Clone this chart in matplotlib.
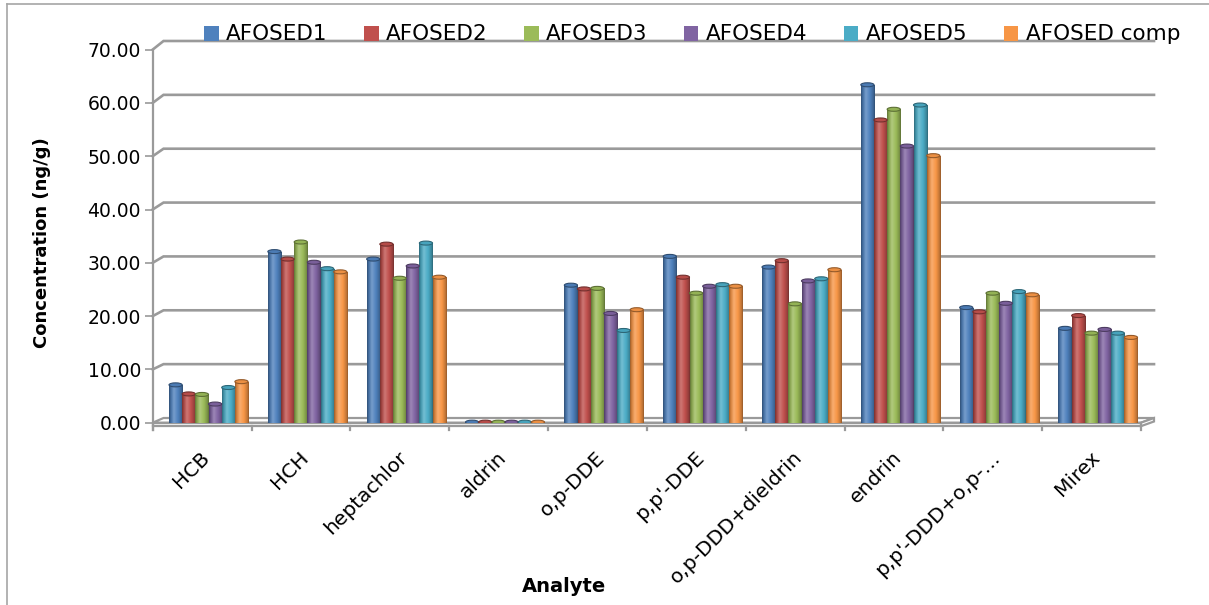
import numpy as np
import matplotlib
matplotlib.use('Agg')
import matplotlib.pyplot as plt
from matplotlib.colors import LinearSegmentedColormap, to_rgb
from matplotlib.patches import Rectangle, Ellipse, Polygon
from matplotlib.lines import Line2D

plt.rcParams['font.family'] = 'DejaVu Sans'

# analytes and concentrations (ng/g) for each sediment sample
analytes = ['HCB', 'HCH', 'heptachlor', 'aldrin', 'o,p-DDE', "p,p'-DDE",
            'o,p-DDD+dieldrin', 'endrin', "p,p'-DDD+o,p-\u2026", 'Mirex']
samples = ['AFOSED1', 'AFOSED2', 'AFOSED3', 'AFOSED4', 'AFOSED5', 'AFOSED comp']

afosed1 = [7.1, 32.1, 30.7, 0.1, 25.8, 31.2, 29.2, 63.4, 21.6, 17.7]
afosed2 = [5.4, 30.7, 33.5, 0.1, 25.1, 27.3, 30.4, 56.8, 20.8, 20.1]
afosed3 = [5.3, 33.9, 27.1, 0.1, 25.2, 24.3, 22.3, 58.8, 24.3, 16.8]
afosed4 = [3.5, 30.1, 29.4, 0.1, 20.5, 25.6, 26.6, 51.9, 22.4, 17.5]
afosed5 = [6.6, 28.9, 33.7, 0.1, 17.3, 25.9, 27.0, 59.6, 24.6, 16.8]
afosed_comp = [7.7, 28.3, 27.3, 0.1, 21.2, 25.6, 28.7, 50.1, 24.0, 16.0]
series = [afosed1, afosed2, afosed3, afosed4, afosed5, afosed_comp]

colors = ['#4F81BD', '#C0504D', '#9BBB59', '#8064A2', '#4BACC6', '#F79646']

W, H = 1209, 605
fig = plt.figure(figsize=(W / 100, H / 100), dpi=100)

# front plane of the 3d plot, in pixels
x_left, x_right = 152.7, 1141
y_zero, y_top = 422.7, 49.6
ax = fig.add_axes([x_left / W, 1 - y_zero / H, (x_right - x_left) / W, (y_zero - y_top) / H])
ax.set_xlim(-0.5, 9.5)
ax.set_ylim(0, 70)
for s in ax.spines.values():
    s.set_visible(False)

grid_c = '#9a9a9a'
# depth offset of the back wall
bx_l = -0.5 + 10.8 / 98.8
bx_r = 9.5 + 13 / 98.8


def back(v):
    return 0.88 + 1.0105 * v


# back wall gridlines with the slanted left wall edge
for v in range(10, 80, 10):
    ax.plot([-0.5, bx_l, bx_r], [v, back(v), back(v)], color=grid_c, lw=1.9,
            clip_on=False, zorder=1, solid_joinstyle='miter')

# floor slab
thick = 0.65
floor_top = Polygon([(-0.5, 0), (9.5, 0), (bx_r, back(0)), (bx_l, back(0))], closed=True,
                    facecolor='white', edgecolor=grid_c, lw=1.6, clip_on=False, zorder=1)
floor_front = Rectangle((-0.5, -thick), 10, thick, facecolor='white', edgecolor=grid_c,
                        lw=1.6, clip_on=False, zorder=1)
floor_side = Polygon([(9.5, 0), (bx_r, back(0)), (bx_r, back(0) - thick), (9.5, -thick)],
                     closed=True, facecolor='white', edgecolor=grid_c, lw=1.6, clip_on=False, zorder=1)
for p in (floor_top, floor_front, floor_side):
    ax.add_patch(p)

# value axis line
ax.plot([-0.5, -0.5], [-1.4, 70], color=grid_c, lw=1.6, clip_on=False, zorder=2)

# category boundary ticks under the floor
for k in range(11):
    ax.plot([k - 0.5, k - 0.5], [-thick, -1.45], color=grid_c, lw=1.6, clip_on=False, zorder=2)


def shade(c, f):
    r = np.array(to_rgb(c))
    if f < 1:
        return tuple(r * f)
    return tuple(r + (1 - r) * (f - 1))


bw = 0.1333
n = len(analytes)
for i, (vals, c) in enumerate(zip(series, colors)):
    cmap = LinearSegmentedColormap.from_list(
        'cyl', [(0, shade(c, 0.62)), (0.12, shade(c, 0.85)), (0.35, shade(c, 1.22)),
                (0.65, shade(c, 1.0)), (0.9, shade(c, 0.78)), (1, shade(c, 0.6))])
    xc = np.arange(n) - 0.5 + 0.165 + (i + 0.5) * bw
    bars = ax.bar(xc, vals, width=bw, color=c, edgecolor='none', zorder=3)
    for b, x, h in zip(bars, xc, vals):
        im = ax.imshow(np.linspace(0, 1, 64).reshape(1, -1), cmap=cmap, aspect='auto',
                       extent=[x - bw / 2, x + bw / 2, 0, h], zorder=3)
        im.set_clip_path(b)
        ax.add_patch(Ellipse((x, h), bw, 0.75, facecolor=shade(c, 0.95),
                             edgecolor=shade(c, 0.6), lw=0.8, zorder=4))
        ax.add_patch(Ellipse((x, 0), bw, 0.6, facecolor=shade(c, 0.8),
                             edgecolor='none', zorder=2.9))

ax.set_xlim(-0.5, 9.5)
ax.set_ylim(0, 70)

# value axis ticks
ax.set_yticks(range(0, 80, 10))
ax.set_yticklabels(['%.2f' % v for v in range(0, 80, 10)], fontsize=13.5)
ax.tick_params(axis='y', length=5.5, width=1.2, color=grid_c, pad=3)

# category labels
ax.set_xticks(np.arange(n) - 0.02)
ax.set_xticklabels(analytes, rotation=45, ha='right', rotation_mode='anchor', fontsize=14.5)
ax.tick_params(axis='x', length=0, pad=18)

fig.text(42 / W, 1 - 243 / H, 'Concentration (ng/g)', rotation=90, fontsize=13,
         fontweight='bold', ha='center', va='center')
fig.text(564 / W, 1 - 586 / H, 'Analyte', fontsize=14, fontweight='bold',
         ha='center', va='center')

# legend along the top
for i, (name, c) in enumerate(zip(samples, colors)):
    x0 = 204 + i * 160
    fig.patches.append(Rectangle((x0 / W, 1 - 41 / H), 14.5 / W, 14.5 / H, facecolor=c,
                                 edgecolor='none', transform=fig.transFigure))
    fig.text((x0 + 21.5) / W, 1 - 33.5 / H, name, fontsize=15.5, ha='left', va='center')

# chart area border (left and top edges)
fig.add_artist(Line2D([7 / W, 7 / W], [0, 1 - 4 / H], color='#a6a6a6', lw=1.2,
                      transform=fig.transFigure))
fig.add_artist(Line2D([7 / W, 1], [1 - 4 / H, 1 - 4 / H], color='#a6a6a6', lw=1.2,
                      transform=fig.transFigure))

fig.savefig('out.png', dpi=100)
